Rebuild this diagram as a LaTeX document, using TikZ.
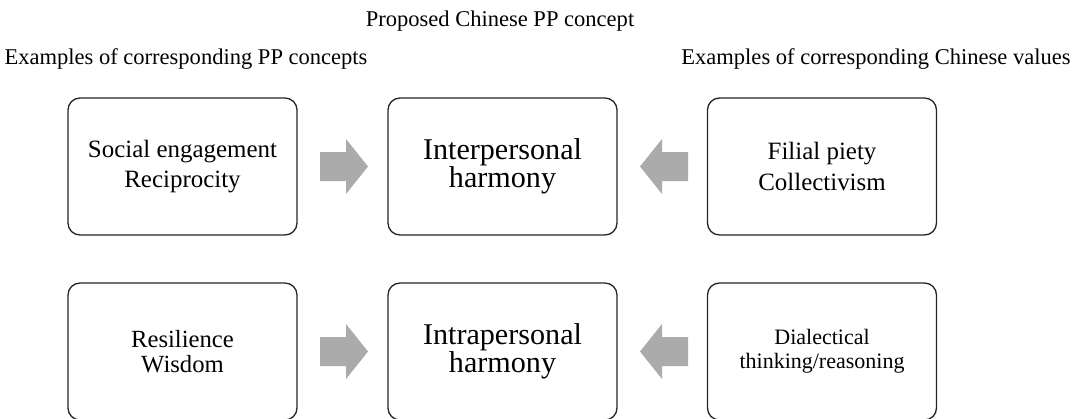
\documentclass[tikz,border=0pt]{standalone}
\usepackage{fontspec}
\setmainfont{Liberation Serif}
\begin{document}
\begin{tikzpicture}[x=0.75pt,y=-0.75pt,
  box/.style={draw=black!85, line width=1pt, rounded corners=9pt, fill=white,
    minimum width=171.75pt, minimum height=102.75pt, align=center, inner sep=2pt},
  boxtxt/.style={font=\fontsize{18.7}{23}\selectfont},
  tighttxt/.style={font=\fontsize{18.5}{19}\selectfont},
  bigtxt/.style={font=\fontsize{22.6}{21}\selectfont},
  smalltxt/.style={font=\fontsize{16.5}{18}\selectfont},
  lbl/.style={font=\fontsize{16.9}{20}\selectfont, inner sep=0pt},
  arr/.style={fill=black!33}]
\useasboundingbox (0,0) rectangle (1074,418);
\clip (0,0) rectangle (1074,418);
% headings
\node[lbl] (title) at (500,21) {Proposed Chinese PP concept};
\node[lbl] (lhead) at (186,59) {Examples of corresponding PP concepts};
\node[lbl] (rhead) at (876,59) {Examples of corresponding Chinese values};
% top row
\node[box, boxtxt] (soc) at (182.5,166.5) {Social engagement\\Reciprocity};
\node[box, bigtxt] (inter) at (502.5,166.5) {Interpersonal\\harmony};
\node[box, boxtxt] (fil) at (822,166.5) {Filial piety\\Collectivism};
% bottom row
\node[box, tighttxt] (res) at (182.5,351.5) {Resilience\\Wisdom};
\node[box, bigtxt] (intra) at (502.5,351.5) {Intrapersonal\\harmony};
\node[box, smalltxt] (dia) at (822,351.5) {Dialectical\\thinking/reasoning};
% block arrows
\fill[arr] (320,152) -- (346,152) -- (346,139) -- (368,166.5) -- (346,194) -- (346,181) -- (320,181) -- cycle;
\fill[arr] (688,152) -- (662,152) -- (662,139) -- (640,166.5) -- (662,194) -- (662,181) -- (688,181) -- cycle;
\fill[arr] (320,337) -- (346,337) -- (346,324) -- (368,351.5) -- (346,379) -- (346,366) -- (320,366) -- cycle;
\fill[arr] (688,337) -- (662,337) -- (662,324) -- (640,351.5) -- (662,379) -- (662,366) -- (688,366) -- cycle;
\end{tikzpicture}
\end{document}
